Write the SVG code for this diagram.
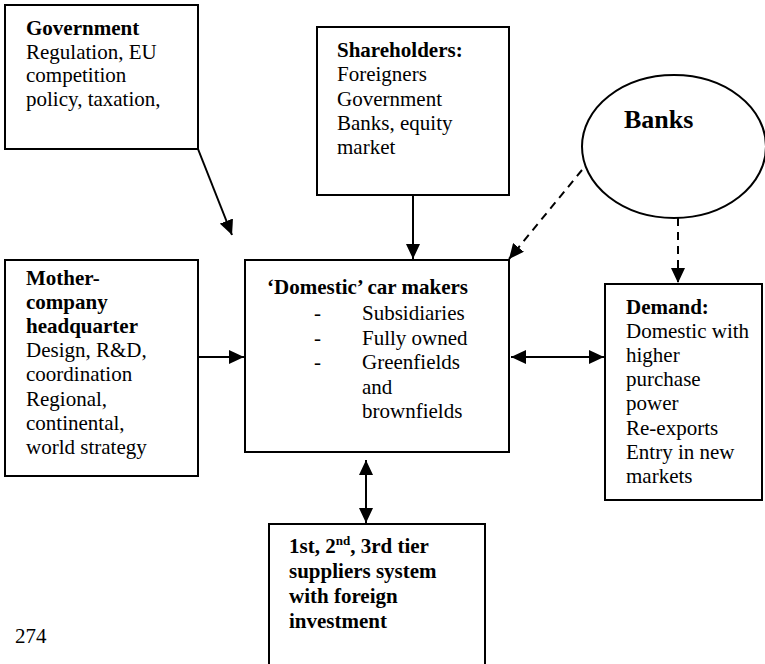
<svg xmlns="http://www.w3.org/2000/svg" width="765" height="664" viewBox="0 0 765 664">
<style>
.box{fill:#fff;stroke:#000;stroke-width:2}
text{font-family:"Liberation Serif","Times New Roman",serif;font-size:21px;fill:#000}
.b{font-weight:bold}
.ln{stroke:#000;stroke-width:2;fill:none}
.d{stroke-dasharray:8,6}
</style>
<defs>
<marker id="ah" markerUnits="userSpaceOnUse" markerWidth="16" markerHeight="14" refX="15" refY="7" orient="auto-start-reverse">
<path d="M0,0 L15,7 L0,14 z" fill="#000"/>
</marker>
</defs>
<rect width="765" height="664" fill="#fff"/>
<g id="connectors">
<line class="ln" x1="198" y1="149" x2="232" y2="235" marker-end="url(#ah)"/>
<line class="ln" x1="413" y1="195" x2="413" y2="259" marker-end="url(#ah)"/>
<line class="ln d" x1="582" y1="170" x2="509" y2="259" marker-end="url(#ah)"/>
<line class="ln d" x1="678" y1="218" x2="678" y2="283" marker-end="url(#ah)"/>
<line class="ln" x1="198" y1="357" x2="244" y2="357" marker-end="url(#ah)"/>
<line class="ln" x1="511" y1="357" x2="604" y2="357" marker-start="url(#ah)" marker-end="url(#ah)"/>
<line class="ln" x1="366" y1="460" x2="366" y2="523" marker-start="url(#ah)" marker-end="url(#ah)"/>
</g>
<g id="government">
<rect class="box" x="5" y="5" width="193" height="144"/>
<text x="26" y="35"><tspan class="b">Government</tspan><tspan x="26" dy="23.5">Regulation, EU</tspan><tspan x="26" dy="23.5">competition</tspan><tspan x="26" dy="23.5">policy, taxation,</tspan></text>
</g>
<g id="shareholders">
<rect class="box" x="317" y="27" width="192" height="168"/>
<text x="337" y="57"><tspan class="b">Shareholders:</tspan><tspan x="337" dy="24.3">Foreigners</tspan><tspan x="337" dy="24.3">Government</tspan><tspan x="337" dy="24.3">Banks, equity</tspan><tspan x="337" dy="24.3">market</tspan></text>
</g>
<g id="banks">
<ellipse class="box" cx="674" cy="146.5" rx="92" ry="71.5"/>
<text class="b" x="624" y="128" style="font-size:26px">Banks</text>
</g>
<g id="mother-company">
<rect class="box" x="5" y="260" width="193" height="216"/>
<text x="26" y="285"><tspan class="b">Mother-</tspan><tspan class="b" x="26" dy="24.1">company</tspan><tspan class="b" x="26" dy="24.1">headquarter</tspan><tspan x="26" dy="24.1">Design, R&amp;D,</tspan><tspan x="26" dy="24.1">coordination</tspan><tspan x="26" dy="24.1">Regional,</tspan><tspan x="26" dy="24.1">continental,</tspan><tspan x="26" dy="24.1">world strategy</tspan></text>
</g>
<g id="car-makers">
<rect class="box" x="245" y="260" width="264" height="192"/>
<text class="b" x="267" y="294">‘Domestic’ car makers</text>
<text x="314" y="320">-</text>
<text x="314" y="345">-</text>
<text x="314" y="369">-</text>
<text x="362" y="320"><tspan>Subsidiaries</tspan><tspan x="362" dy="24.5">Fully owned</tspan><tspan x="362" dy="24.5">Greenfields</tspan><tspan x="362" dy="24.5">and</tspan><tspan x="362" dy="24.5">brownfields</tspan></text>
</g>
<g id="demand">
<rect class="box" x="605" y="284" width="157" height="216"/>
<text x="626" y="314"><tspan class="b">Demand:</tspan><tspan x="626" dy="24.1">Domestic with</tspan><tspan x="626" dy="24.1">higher</tspan><tspan x="626" dy="24.1">purchase</tspan><tspan x="626" dy="24.1">power</tspan><tspan x="626" dy="24.1">Re-exports</tspan><tspan x="626" dy="24.1">Entry in new</tspan><tspan x="626" dy="24.1">markets</tspan></text>
</g>
<g id="suppliers">
<rect class="box" x="269" y="524" width="216" height="150"/>
<text class="b" x="289" y="553"><tspan>1st, 2</tspan><tspan dy="-8" style="font-size:13px">nd</tspan><tspan dy="8">, 3rd tier</tspan><tspan x="289" dy="25">suppliers system</tspan><tspan x="289" dy="25">with foreign</tspan><tspan x="289" dy="25">investment</tspan></text>
</g>
<text x="15" y="643">274</text>
</svg>
